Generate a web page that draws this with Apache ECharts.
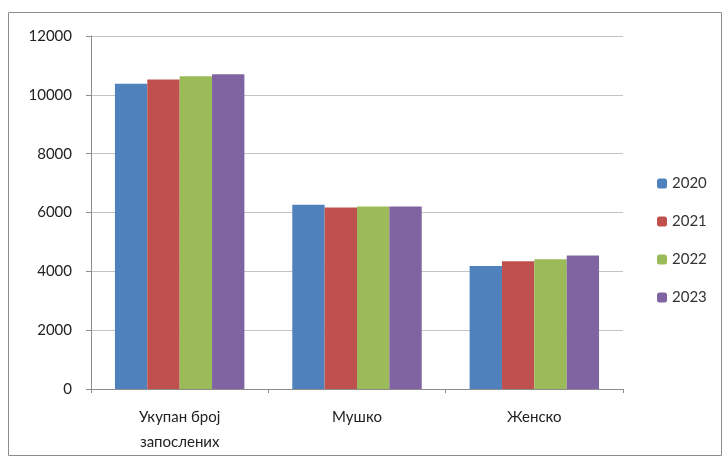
<!DOCTYPE html>
<html><head><meta charset="utf-8">
<script src="https://cdn.jsdelivr.net/npm/echarts@6/dist/echarts.min.js"></script>
<style>html,body{margin:0;padding:0;background:#fff}#c{width:726px;height:461px}</style>
</head><body><div id="c"></div>
<script>
const categories = ["Укупан број\nзапослених", "Мушко", "Женско"];
const years = ["2020", "2021", "2022", "2023"];
const v2020 = [10380, 6260, 4180];
const v2021 = [10520, 6170, 4340];
const v2022 = [10630, 6200, 4410];
const v2023 = [10700, 6200, 4540];
const yTicks = [0, 2000, 4000, 6000, 8000, 10000, 12000];
const colors = ["#4F81BD", "#C0504D", "#9BBB59", "#8064A2"];
const seriesValues = [v2020, v2021, v2022, v2023];

const chart = echarts.init(document.getElementById('c'));
chart.setOption({
  animation: false,
  textStyle: { fontFamily: 'Lato' },
  graphic: [{ type: 'rect', shape: { x: 8.5, y: 12.5, width: 713, height: 443 }, style: { fill: 'none', stroke: '#8c8c8c', lineWidth: 1 } }],
  grid: { left: 91, right: 103, top: 36, bottom: 72 },
  legend: {
    orient: 'vertical', left: 652, top: 171, itemWidth: 10, itemHeight: 10, itemGap: 23,
    textStyle: { fontSize: 15, color: '#333' , fontFamily: 'Lato'},
    data: years
  },
  xAxis: {
    type: 'category', data: categories,
    axisLine: { lineStyle: { color: '#8c8c8c' } },
    axisTick: { show: true, length: 4, lineStyle: { color: '#8c8c8c' } },
    axisLabel: { fontSize: 15, color: '#222', margin: 16, lineHeight: 25, fontFamily: 'Lato' }
  },
  yAxis: {
    type: 'value', min: yTicks[0], max: yTicks[yTicks.length - 1], interval: 2000,
    axisLine: { show: true, lineStyle: { color: '#8c8c8c' } },
    axisTick: { show: true, length: 5, lineStyle: { color: '#8c8c8c' } },
    axisLabel: { fontSize: 15, color: '#222', margin: 19, fontFamily: 'Lato', formatter: v => String(v) },
    splitLine: { lineStyle: { color: '#c4c4c4' } }
  },
  series: years.map((y, i) => ({
    name: y, type: 'bar', data: seriesValues[i],
    itemStyle: { color: colors[i] },
    barGap: '0%', barCategoryGap: '27%'
  }))
});
</script></body></html>
